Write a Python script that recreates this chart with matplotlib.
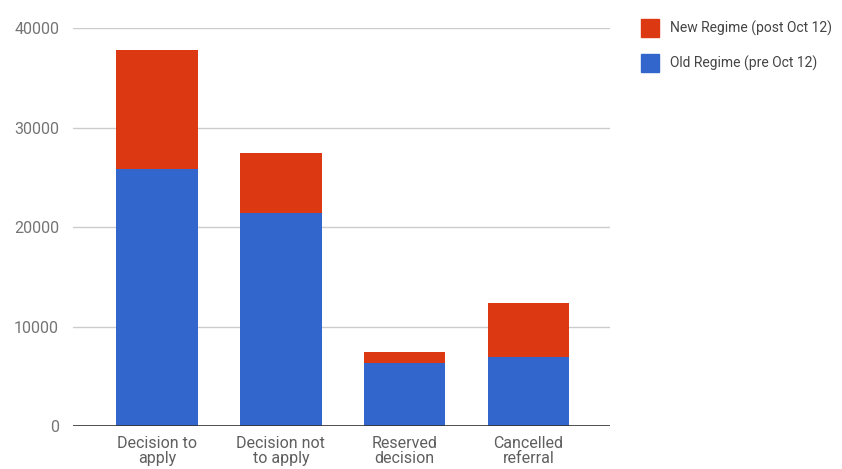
import matplotlib.pyplot as plt
from matplotlib.patches import Rectangle
import numpy as np

categories = ['Decision to\napply', 'Decision not\nto apply', 'Reserved\ndecision', 'Cancelled\nreferral']
old_regime = [25800, 21400, 6300, 6900]
new_regime = [12000, 6000, 1100, 5500]
series_names = ['New Regime (post Oct 12)', 'Old Regime (pre Oct 12)']
yticks = [0, 10000, 20000, 30000, 40000]

RED = '#dc3912'
BLUE = '#3366cc'

plt.rcParams['font.family'] = ['Roboto', 'DejaVu Sans']

fig = plt.figure(figsize=(8.42, 4.69), dpi=100)
ax = fig.add_axes([0.0867, 0.0917, 0.6378, 0.8483])

x = np.arange(len(categories))
ax.bar(x, old_regime, width=0.66, color=BLUE, zorder=3)
ax.bar(x, new_regime, width=0.66, bottom=old_regime, color=RED, zorder=3)

ax.set_xlim(-0.68, 3.66)
ax.set_ylim(0, 40000)
ax.set_yticks(yticks)
ax.set_yticklabels([str(t) for t in yticks], color='#757575', fontsize=11.5)
ax.set_xticks(x)
ax.set_xticklabels(categories, color='#5f5f5f', fontsize=11.5, linespacing=1.0)
ax.tick_params(axis='y', length=0, pad=10)
ax.tick_params(axis='x', length=0, pad=7)
ax.grid(axis='y', color='#cccccc', linewidth=1, zorder=0)
ax.axhline(0, color='#333333', linewidth=1.2, zorder=4)
for side in ax.spines.values():
    side.set_visible(False)

# legend drawn by hand, square swatches at the right
for i, (name, col) in enumerate(zip(series_names, [RED, BLUE])):
    y = 1 - (28 + 35 * i) / 469
    fig.patches.append(Rectangle((641 / 842, y - 9 / 469), 18 / 842, 18 / 469,
                                 transform=fig.transFigure, color=col))
    fig.text(670 / 842, y, name, fontsize=10, color='#444444', va='center')

fig.savefig('out.png', dpi=100)
